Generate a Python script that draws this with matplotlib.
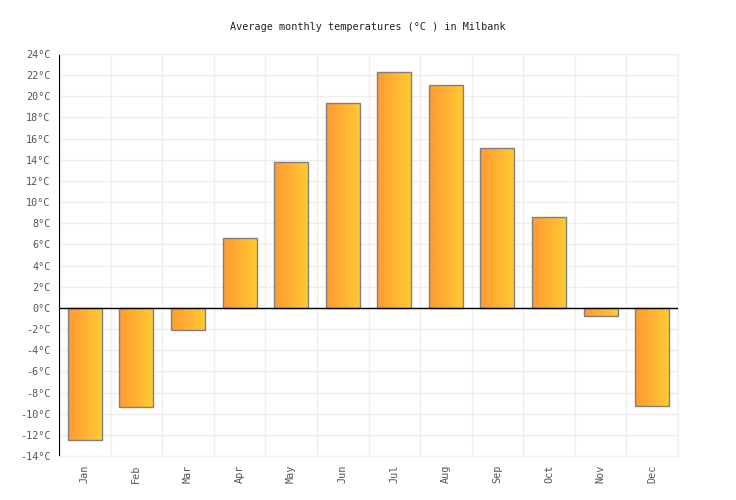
import numpy as np
import matplotlib
matplotlib.use('Agg')
import matplotlib.pyplot as plt
from matplotlib.colors import LinearSegmentedColormap

months = ['Jan', 'Feb', 'Mar', 'Apr', 'May', 'Jun', 'Jul', 'Aug', 'Sep', 'Oct', 'Nov', 'Dec']
temps = [-12.5, -9.4, -2.1, 6.6, 13.8, 19.4, 22.3, 21.1, 15.1, 8.6, -0.8, -9.3]
yticks = list(range(-14, 25, 2))

plt.rcParams['font.family'] = ['DejaVu Sans Mono']

fig = plt.figure(figsize=(7.36, 5), dpi=100)
ax = fig.add_axes([59/736, 44/500, 619/736, 402/500])

x = np.arange(len(months))
bars = ax.bar(x, temps, width=0.66, color='none', edgecolor='#808080', linewidth=1, zorder=3)

cmap = LinearSegmentedColormap.from_list('og', ['#ff9933', '#ffcc33'])
grad = np.linspace(0, 1, 64).reshape(1, -1)
for b in bars:
    x0, w = b.get_x(), b.get_width()
    y0, h = b.get_y(), b.get_height()
    im = ax.imshow(grad, cmap=cmap, aspect='auto', extent=[x0, x0 + w, y0, y0 + h],
                   zorder=2, interpolation='bilinear')
    im.set_clip_path(b)

ax.set_xlim(-0.5, len(months) - 0.5)
ax.set_ylim(-14, 24)
ax.set_yticks(yticks)
ax.set_yticklabels([f'{t}°C' for t in yticks], color='#555555', fontsize=7.3)
ax.set_xticks(x)
ax.set_xticklabels(months, rotation=90, color='#555555', fontsize=7.3)
ax.set_xticks(np.arange(-0.5, len(months), 1), minor=True)

ax.grid(True, which='minor', axis='x', color='#eeeeee', linewidth=1, zorder=0)
ax.grid(True, which='major', axis='y', color='#eeeeee', linewidth=1, zorder=0)
ax.tick_params(axis='x', which='both', length=0, pad=6)
ax.tick_params(axis='y', length=0, pad=6)

ax.axhline(0, color='black', linewidth=1, zorder=4)
for s in ['top', 'right', 'bottom']:
    ax.spines[s].set_color('#eeeeee')
ax.spines['left'].set_color('black')

fig.text(0.5, 1 - 27/500, 'Average monthly temperatures (°C ) in Milbank',
         ha='center', va='center', fontsize=7.3, color='#222222')

fig.savefig('out.png', dpi=100)
